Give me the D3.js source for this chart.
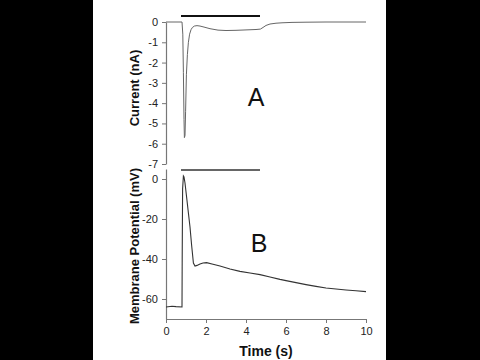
<!DOCTYPE html>
<html><head><meta charset="utf-8">
<script src="https://cdn.jsdelivr.net/npm/d3@7"></script>
<style>
html,body{margin:0;padding:0;background:#000;}
svg{display:block;}
text{font-family:"Liberation Sans",Arial,sans-serif;}
</style></head>
<body>
<svg id="chart" width="480" height="360"></svg>
<script>
// Current trace (panel A): time (s), current (nA)
const currentTime = [0, 0.4, 0.8, 0.84, 0.87, 0.9, 0.92, 0.95, 0.98, 1.02, 1.07, 1.12, 1.18, 1.25, 1.32, 1.42, 1.55, 1.7, 1.9, 2.2, 2.6, 3.0, 3.5, 4.0, 4.5, 4.72, 4.85, 5.0, 5.2, 5.5, 5.8, 6.3, 7, 8, 9, 10];
const currentValue = [0, 0, 0, -0.6, -2.5, -4.8, -5.7, -5.6, -4.4, -2.6, -1.6, -1.0, -0.6, -0.38, -0.27, -0.2, -0.18, -0.2, -0.25, -0.33, -0.4, -0.42, -0.41, -0.39, -0.37, -0.35, -0.27, -0.17, -0.1, -0.06, -0.04, -0.02, -0.01, 0, 0, 0];
// Membrane potential trace (panel B): time (s), potential (mV)
const vmTime = [0, 0.3, 0.5, 0.8, 0.81, 0.83, 0.87, 0.9, 0.95, 1.03, 1.12, 1.2, 1.28, 1.37, 1.45, 1.55, 1.7, 1.85, 2.03, 2.3, 2.7, 3.2, 3.7, 4.2, 4.7, 5.2, 5.7, 6.0, 6.5, 7.0, 7.5, 8.0, 8.5, 9.0, 9.5, 10];
const vmValue = [-64, -63.6, -63.8, -64, -40, -5, 1.5, 1, -2, -9, -17, -24, -33, -42, -43.5, -43.2, -42.5, -42, -41.8, -42.5, -43.5, -45, -46.2, -47, -47.8, -49, -50.2, -50.8, -51.8, -52.8, -53.7, -54.5, -55, -55.5, -55.9, -56.3];
// Stimulus bar (s)
const stimulus = [0.75, 4.7];
// Axis ticks
const currentTicks = [0, -1, -2, -3, -4, -5, -6, -7];
const vmTicks = [0, -20, -40, -60];
const timeTicks = [0, 2, 4, 6, 8, 10];

const svg = d3.select("#chart");
svg.append("rect").attr("x", 93).attr("y", 0).attr("width", 293).attr("height", 360).attr("fill", "#fff");

const x = d3.scaleLinear().domain([0, 10]).range([166, 366]);
const yA = d3.scaleLinear().domain([-7, 0]).range([164, 22]);
const yB = d3.scaleLinear().domain([-70, 5]).range([319, 169]);

const fmt = d => String(d);
function styleAxis(g) {
  g.select(".domain").attr("stroke", "#777").attr("stroke-width", 1.2);
  g.selectAll(".tick line").attr("stroke", "#777");
  g.selectAll(".tick text").attr("fill", "#222").style("font-size", "11px").style("font-family", "'Liberation Sans',Arial,sans-serif");
}

// Panel A axis
const gA = svg.append("g").attr("transform", "translate(166,0)")
  .call(d3.axisLeft(yA).tickValues(currentTicks).tickSize(4).tickPadding(4).tickFormat(fmt).tickSizeOuter(0));
styleAxis(gA);

// Panel B axes
const gB = svg.append("g").attr("transform", "translate(166,0)")
  .call(d3.axisLeft(yB).tickValues(vmTicks).tickSize(4).tickPadding(4).tickFormat(fmt).tickSizeOuter(0));
styleAxis(gB);
const gX = svg.append("g").attr("transform", "translate(0,319)")
  .call(d3.axisBottom(x).tickValues(timeTicks).tickSize(4).tickPadding(4).tickFormat(fmt).tickSizeOuter(0));
styleAxis(gX);

// Traces
const lineA = d3.line().x((d, i) => x(currentTime[i])).y(d => yA(d));
svg.append("path").datum(currentValue).attr("d", lineA)
  .attr("fill", "none").attr("stroke", "#666").attr("stroke-width", 1);

const lineB = d3.line().x((d, i) => x(vmTime[i])).y(d => yB(d));
svg.append("path").datum(vmValue).attr("d", lineB)
  .attr("fill", "none").attr("stroke", "#333").attr("stroke-width", 1.1);

// Stimulus bars
svg.append("line").attr("x1", x(stimulus[0])).attr("x2", x(stimulus[1]))
  .attr("y1", yA(0.3)).attr("y2", yA(0.3)).attr("stroke", "#111").attr("stroke-width", 2);
svg.append("line").attr("x1", x(stimulus[0])).attr("x2", x(stimulus[1]))
  .attr("y1", yB(4.5)).attr("y2", yB(4.5)).attr("stroke", "#333").attr("stroke-width", 1.6);

// Titles
svg.append("text").attr("transform", "translate(139,88) rotate(-90)")
  .attr("text-anchor", "middle").style("font-size", "13px").style("font-weight", "bold").attr("fill", "#111")
  .text("Current (nA)");
svg.append("text").attr("transform", "translate(139,246) rotate(-90)")
  .attr("text-anchor", "middle").style("font-size", "13px").style("font-weight", "bold").attr("fill", "#111")
  .text("Membrane Potential (mV)");
svg.append("text").attr("x", 266).attr("y", 356)
  .attr("text-anchor", "middle").style("font-size", "14px").style("font-weight", "bold").attr("fill", "#111")
  .text("Time (s)");

// Panel letters
svg.append("text").attr("x", 256).attr("y", 106).attr("text-anchor", "middle")
  .style("font-size", "25px").attr("fill", "#111").text("A");
svg.append("text").attr("x", 259).attr("y", 252).attr("text-anchor", "middle")
  .style("font-size", "25px").attr("fill", "#111").text("B");
</script>
</body></html>
